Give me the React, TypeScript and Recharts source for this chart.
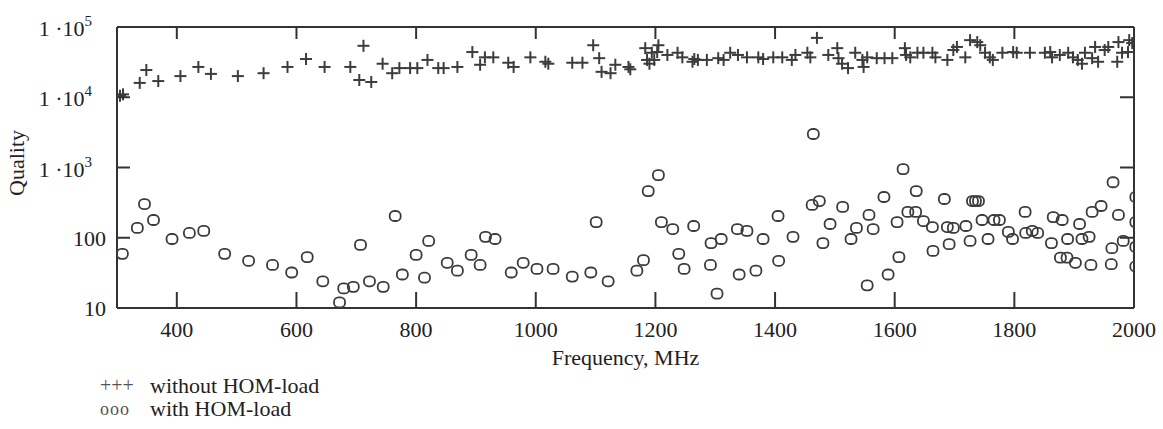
import React from 'react';
import { ScatterChart, Scatter, XAxis, YAxis, Legend } from 'recharts';

// ---- data ----
const withoutFreq = [
  305, 310, 338, 349, 369, 406, 436, 457, 502, 545, 585, 616, 647, 690, 705, 712, 725, 744, 760, 772,
  790, 802, 819, 837, 846, 869, 894, 907, 915, 929, 954, 963, 991, 1016, 1021, 1061, 1078, 1096, 1106, 1110,
  1125, 1133, 1155, 1158, 1183, 1186, 1190, 1194, 1198, 1203, 1205, 1220, 1237, 1245, 1262, 1265, 1271, 1286, 1305, 1314,
  1325, 1338, 1353, 1372, 1380, 1397, 1412, 1428, 1434, 1454, 1459, 1470, 1489, 1504, 1506, 1512, 1522, 1534, 1546, 1548,
  1554, 1570, 1583, 1596, 1617, 1619, 1626, 1638, 1648, 1663, 1668, 1688, 1698, 1704, 1718, 1726, 1738, 1743, 1751, 1759,
  1764, 1780, 1798, 1804, 1826, 1851, 1860, 1863, 1876, 1890, 1898, 1906, 1913, 1918, 1930, 1935, 1940, 1951, 1957, 1972,
  1974, 1980, 1990, 1992, 1997,
];
const withoutQ = [
  10500, 11000, 16000, 24400, 17000, 20000, 27000, 21500, 20000, 22000, 27000, 35000, 27000, 27000, 17600, 54000, 16500, 30000, 22000, 26000,
  26000, 26000, 34000, 26000, 26000, 27000, 44000, 29000, 37000, 37000, 31000, 27000, 37000, 32000, 30000, 31000, 31000, 55000, 36000, 23000,
  22000, 29000, 27000, 25000, 50000, 34000, 30000, 43000, 34000, 44000, 55000, 40000, 43000, 37000, 32000, 35000, 34000, 34000, 36000, 34000,
  43000, 40000, 37000, 37000, 35000, 37000, 37000, 34000, 40000, 43000, 37000, 70000, 40000, 50000, 36000, 30000, 26000, 43000, 34000, 27000,
  37000, 36000, 36000, 36000, 50000, 40000, 37000, 43000, 43000, 43000, 37000, 34000, 47000, 52000, 37000, 65000, 61000, 55000, 43000, 37000,
  34000, 43000, 44000, 43000, 43000, 43000, 44000, 37000, 40000, 43000, 37000, 34000, 30000, 43000, 36000, 52000, 32000, 47000, 52000, 32000,
  61000, 43000, 44000, 65000, 59000,
];
const withFreq = [
  309, 334, 346, 361, 392, 421, 445, 480, 520, 560, 592, 618, 644, 672, 679, 695, 707, 722, 745, 765,
  777, 800, 814, 821, 852, 869, 892, 907, 916, 932, 959, 979, 1002, 1029, 1061, 1092, 1101, 1121, 1169, 1180,
  1188, 1205, 1210, 1229, 1239, 1248, 1264, 1293, 1292, 1303, 1310, 1337, 1340, 1353, 1368, 1380, 1405, 1406, 1430, 1462,
  1464, 1474, 1480, 1492, 1513, 1527, 1536, 1554, 1557, 1564, 1582, 1589, 1604, 1607, 1614, 1622, 1635, 1636, 1648, 1663,
  1664, 1683, 1688, 1691, 1698, 1719, 1726, 1730, 1735, 1740, 1746, 1756, 1766, 1775, 1790, 1797, 1818, 1819, 1830, 1839,
  1862, 1865, 1877, 1880, 1888, 1889, 1902, 1909, 1913, 1925, 1928, 1930, 1945, 1963, 1962, 1965, 1974, 1982, 2003, 2003,
  2003, 2003,
];
const withQ = [
  59, 138, 302, 179, 96, 117, 125, 59, 47, 41, 32, 53, 24, 12, 19, 20, 79, 24, 20, 204,
  30, 57, 27, 90, 44, 34, 57, 41, 103, 96, 32, 44, 36, 36, 28, 32, 167, 24, 34, 48,
  462, 780, 167, 133, 59, 36, 147, 84, 41, 16, 96, 133, 30, 125, 34, 96, 204, 47, 103, 293,
  3000, 333, 84, 157, 275, 96, 138, 21, 211, 133, 380, 30, 167, 53, 950, 233, 233, 462, 173, 142,
  65, 356, 142, 81, 138, 147, 90, 333, 333, 333, 179, 96, 179, 179, 121, 96, 233, 117, 125, 117,
  84, 197, 52, 179, 52, 96, 44, 157, 96, 103, 41, 233, 283, 71, 42, 617, 211, 90, 380, 167,
  74, 39,
];
const xTicks = [400, 600, 800, 1000, 1200, 1400, 1600, 1800, 2000];
const yTicks = [10, 100, 1000, 10000, 100000];
const seriesNames = ['without HOM-load', 'with HOM-load'];
const legendSymbols = ['+++', 'ooo'];

const withoutData = withoutFreq.map((f, i) => ({ f, q: withoutQ[i] }));
const withData = withFreq.map((f, i) => ({ f, q: withQ[i] }));

// ---- styles ----
const FONT = "'Liberation Serif', 'DejaVu Serif', 'Times New Roman', serif";
const INK = '#222';
const MARK = '#3c3c3c';
const AXIS = '#333';

const Cross = (props: any) => {
  const { cx, cy } = props;
  if (cx == null || cy == null) return null;
  return (
    <g stroke={MARK} strokeWidth={2}>
      <line x1={cx - 6} y1={cy} x2={cx + 6} y2={cy} />
      <line x1={cx} y1={cy - 6} x2={cx} y2={cy + 6} />
    </g>
  );
};

const Ring = (props: any) => {
  const { cx, cy } = props;
  if (cx == null || cy == null) return null;
  return <rect x={cx - 5.5} y={cy - 5} width={11} height={10} rx={4.5} ry={4.5} fill="none" stroke={MARK} strokeWidth={1.8} />;
};

const NoShape = () => null;

const BottomTick = (props: any) => {
  const { x, y, payload } = props;
  return (
    <g>
      <line x1={x} y1={y} x2={x} y2={y - 16} stroke={AXIS} strokeWidth={2} />
      <text x={x} y={y + 29} textAnchor="middle" fontFamily={FONT} fontSize={22} fill={INK}>
        {payload.value}
      </text>
    </g>
  );
};

const TopTick = (props: any) => {
  const { x, y } = props;
  return <line x1={x} y1={y} x2={x} y2={y + 12} stroke={AXIS} strokeWidth={2} />;
};

const LeftTick = (props: any) => {
  const { x, y, payload } = props;
  const v = payload.value as number;
  const exp = Math.round(Math.log10(v));
  return (
    <g>
      <line x1={x} y1={y} x2={x + 13} y2={y} stroke={AXIS} strokeWidth={2} />
      {v >= 1000 ? (
        <text x={92} y={y + 9} textAnchor="end" fontFamily={FONT} fontSize={22} fill={INK}>
          {'1 \u00B710'}
          <tspan dy={-10} fontSize={15}>{exp}</tspan>
        </text>
      ) : (
        <text x={106} y={y + 8} textAnchor="end" fontFamily={FONT} fontSize={22} fill={INK}>
          {v}
        </text>
      )}
    </g>
  );
};

const RightTick = (props: any) => {
  const { x, y } = props;
  return <line x1={x} y1={y} x2={x - 14} y2={y} stroke={AXIS} strokeWidth={2} />;
};

const XLabel = (props: any) => {
  const vb = props.viewBox || {};
  return (
    <text x={vb.x + vb.width / 2} y={vb.y + 57} textAnchor="middle" fontFamily={FONT} fontSize={22} fill={INK}>
      Frequency, MHz
    </text>
  );
};

const YLabel = () => {
  const cx = 24;
  const cy = 163;
  return (
    <text x={cx} y={cy} transform={`rotate(-90 ${cx} ${cy})`} textAnchor="middle" fontFamily={FONT} fontSize={22} fill={INK}>
      Quality
    </text>
  );
};

const LegendContent = (props: any) => {
  const payload = ((props.payload || []) as any[])
    .filter((p) => seriesNames.indexOf(p.value) >= 0)
    .sort((a, b) => seriesNames.indexOf(a.value) - seriesNames.indexOf(b.value));
  return (
    <svg width={340} height={52} style={{ display: 'block' }}>
      {payload.map((p, i) => {
        const k = seriesNames.indexOf(p.value);
        return (
          <g key={i}>
            <text x={0} y={20 + i * 23} fontFamily={FONT} fontSize={k === 0 ? 20 : 18} fill="#555" letterSpacing={k === 0 ? 0 : 1}>
              {legendSymbols[k]}
            </text>
            <text x={50} y={21 + i * 23} fontFamily={FONT} fontSize={22} fill={INK}>
              {p.value}
            </text>
          </g>
        );
      })}
    </svg>
  );
};

export default function App() {
  return (
    <div style={{ position: 'absolute', left: 0, top: 0, width: 1163, height: 429, background: '#fff' }}>
      <ScatterChart width={1163} height={429} margin={{ top: 26, right: 28, left: 0, bottom: 61 }}>
        <XAxis
          xAxisId="b"
          dataKey="f"
          type="number"
          domain={[300, 2000]}
          allowDataOverflow
          ticks={xTicks}
          interval={0}
          height={60}
          tickSize={0}
          tickMargin={0}
          tickLine={false}
          axisLine={{ stroke: AXIS, strokeWidth: 2 }}
          tick={<BottomTick />}
          label={<XLabel />}
        />
        <XAxis
          xAxisId="t"
          orientation="top"
          dataKey="f"
          type="number"
          domain={[300, 2000]}
          allowDataOverflow
          ticks={xTicks.slice(0, -1)}
          interval={0}
          height={1}
          tickSize={0}
          tickMargin={0}
          tickLine={false}
          axisLine={{ stroke: AXIS, strokeWidth: 2 }}
          tick={<TopTick />}
        />
        <YAxis
          yAxisId="l"
          dataKey="q"
          type="number"
          scale="log"
          domain={[10, 100000]}
          allowDataOverflow
          ticks={yTicks}
          interval={0}
          width={117}
          tickSize={0}
          tickMargin={0}
          tickLine={false}
          axisLine={{ stroke: AXIS, strokeWidth: 2 }}
          tick={<LeftTick />}
          label={<YLabel />}
        />
        <YAxis
          yAxisId="r"
          orientation="right"
          dataKey="q"
          type="number"
          scale="log"
          domain={[10, 100000]}
          allowDataOverflow
          ticks={yTicks.slice(1, -1)}
          interval={0}
          width={1}
          tickSize={0}
          tickMargin={0}
          tickLine={false}
          axisLine={{ stroke: AXIS, strokeWidth: 2 }}
          tick={<RightTick />}
        />
        <Legend
          layout="horizontal"
          verticalAlign="middle"
          align="center"
          wrapperStyle={{ position: 'absolute', left: 100, top: 372, width: 340, height: 52 }}
          content={<LegendContent />}
        />
        <Scatter
          name="frame"
          data={withoutData}
          xAxisId="t"
          yAxisId="r"
          shape={<NoShape />}
          legendType="none"
          isAnimationActive={false}
        />
        <Scatter
          name={seriesNames[0]}
          data={withoutData}
          xAxisId="b"
          yAxisId="l"
          shape={<Cross />}
          fill={MARK}
          isAnimationActive={false}
        />
        <Scatter
          name={seriesNames[1]}
          data={withData}
          xAxisId="b"
          yAxisId="l"
          shape={<Ring />}
          fill={MARK}
          isAnimationActive={false}
        />
      </ScatterChart>
    </div>
  );
}
